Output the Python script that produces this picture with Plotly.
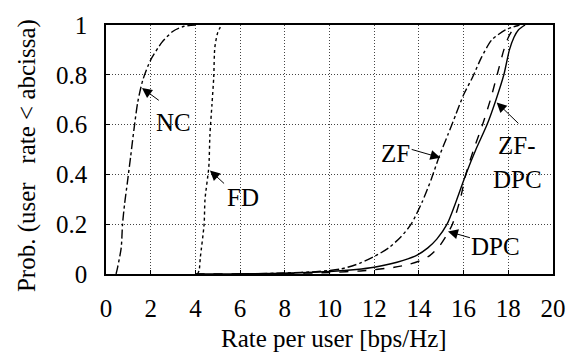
import plotly.graph_objects as go

# ---- data ----
nc_x = [0.45, 0.52, 0.68, 0.74, 0.83, 0.96, 1.1, 1.25, 1.42, 1.65, 2.0, 2.5, 3.0, 3.5, 4.0]
nc_y = [0.0, 0.027, 0.105, 0.2, 0.28, 0.37, 0.47, 0.58, 0.69, 0.78, 0.86, 0.93, 0.975, 0.995, 1.0]

fd_x = [4.1, 4.17, 4.22, 4.39, 4.43, 4.6, 4.65, 4.74, 4.82, 4.87, 5.0, 5.17]
fd_y = [0.0, 0.016, 0.066, 0.2, 0.3, 0.43, 0.56, 0.68, 0.79, 0.91, 0.97, 1.0]

zf_x = [6, 8, 9.5, 10.5, 11.35, 12.0, 12.65, 13.2, 13.65, 14.15, 14.55, 14.9, 15.3, 15.65, 16.0, 16.4, 16.8, 17.26, 17.87, 18.5]
zf_y = [0.0, 0.004, 0.01, 0.02, 0.043, 0.07, 0.105, 0.15, 0.2, 0.29, 0.38, 0.47, 0.56, 0.64, 0.72, 0.79, 0.87, 0.94, 0.98, 1.0]

zfdpc_x = [4, 8, 10, 11.2, 12.0, 12.7, 13.3, 13.9, 14.4, 14.8, 15.26, 15.7, 16.1, 16.55, 17.05, 17.45, 17.8, 18.05, 18.25, 18.45, 18.75]
zfdpc_y = [0.0, 0.003, 0.01, 0.018, 0.027, 0.04, 0.055, 0.075, 0.105, 0.14, 0.2, 0.3, 0.4, 0.5, 0.6, 0.7, 0.8, 0.9, 0.95, 0.98, 1.0]

dpc_x = [4, 8, 10, 11.5, 12.9, 13.6, 14.1, 14.5, 14.9, 15.2, 15.5, 15.85, 16.1, 16.45, 16.85, 17.2, 17.5, 17.8, 18.0, 18.2, 18.45]
dpc_y = [0.0, 0.002, 0.006, 0.013, 0.027, 0.04, 0.055, 0.075, 0.11, 0.15, 0.2, 0.3, 0.4, 0.5, 0.6, 0.7, 0.8, 0.9, 0.95, 0.98, 1.0]

x_ticks = [0, 2, 4, 6, 8, 10, 12, 14, 16, 18, 20]
y_ticks = [0, 0.2, 0.4, 0.6, 0.8, 1]
y_tick_labels = ["0", "0.2", "0.4", "0.6", "0.8", "1"]

FONT = "Liberation Serif"

fig = go.Figure()
series = [
    (nc_x, nc_y, "dashdot", "NC"),
    (fd_x, fd_y, "dot", "FD"),
    (zf_x, zf_y, "dashdot", "ZF"),
    (dpc_x, dpc_y, "dash", "DPC"),
    (zfdpc_x, zfdpc_y, "solid", "ZF-DPC"),
]
for xs, ys, dash, name in series:
    fig.add_trace(go.Scatter(x=xs, y=ys, mode="lines", name=name,
                             line=dict(color="black", width=1.4, dash=dash,
                                       shape="spline", smoothing=0.7),
                             showlegend=False))

# arrows: (head_x, head_y, tail_x, tail_y)
arrows = [
    (1.61, 0.747, 2.43, 0.693),
    (4.65, 0.416, 5.35, 0.358),
    (14.96, 0.467, 13.61, 0.502),
    (17.48, 0.689, 18.52, 0.599),
    (15.30, 0.171, 16.35, 0.144),
]
for hx, hy, tx, ty in arrows:
    fig.add_annotation(x=hx, y=hy, ax=tx, ay=ty, xref="x", yref="y", axref="x", ayref="y",
                       text="", showarrow=True, arrowhead=2, arrowsize=2, arrowwidth=1,
                       arrowcolor="black", standoff=0, startstandoff=0)

labels = [
    ("NC", 3.0, 0.607),
    ("FD", 6.13, 0.307),
    ("ZF", 12.96, 0.482),
    ("ZF-", 18.39, 0.518),
    ("DPC", 18.39, 0.381),
    ("DPC", 17.43, 0.109),
]
for t, lx, ly in labels:
    fig.add_annotation(x=lx, y=ly, xref="x", yref="y", text=t, showarrow=False,
                       xanchor="center", yanchor="middle",
                       font=dict(family=FONT, size=25, color="black"))

# axis titles
fig.add_annotation(x=(341 - 106) / 460, y=(274 - 341) / 257, xref="paper", yref="paper",
                   text="Rate per user [bps/Hz]", showarrow=False,
                   xanchor="center", yanchor="middle",
                   font=dict(family=FONT, size=25, color="black"))
fig.add_annotation(x=(25 - 106) / 460, y=(274 - 152) / 257, xref="paper", yref="paper",
                   text="Prob. (user   rate < abcissa)", showarrow=False, textangle=-90,
                   xanchor="center", yanchor="middle",
                   font=dict(family=FONT, size=25, color="black"))

axis_common = dict(showline=True, linecolor="black", linewidth=1.5, mirror=True,
                   ticks="inside", ticklen=4, tickcolor="black",
                   showgrid=True, gridcolor="#444444", gridwidth=1, griddash="1px,2px",
                   zeroline=False,
                   tickfont=dict(family=FONT, size=25, color="black"))

fig.update_xaxes(range=[0, 20], tickvals=x_ticks, ticklabelstandoff=11, **axis_common)
fig.update_yaxes(range=[0, 1], tickvals=y_ticks, ticktext=y_tick_labels,
                 ticklabelstandoff=12, **axis_common)

fig.update_layout(width=578, height=354, margin=dict(l=106, r=12, t=17, b=80),
                  plot_bgcolor="white", paper_bgcolor="white",
                  font=dict(family=FONT, size=24, color="black"))

fig.write_html("out.html")
